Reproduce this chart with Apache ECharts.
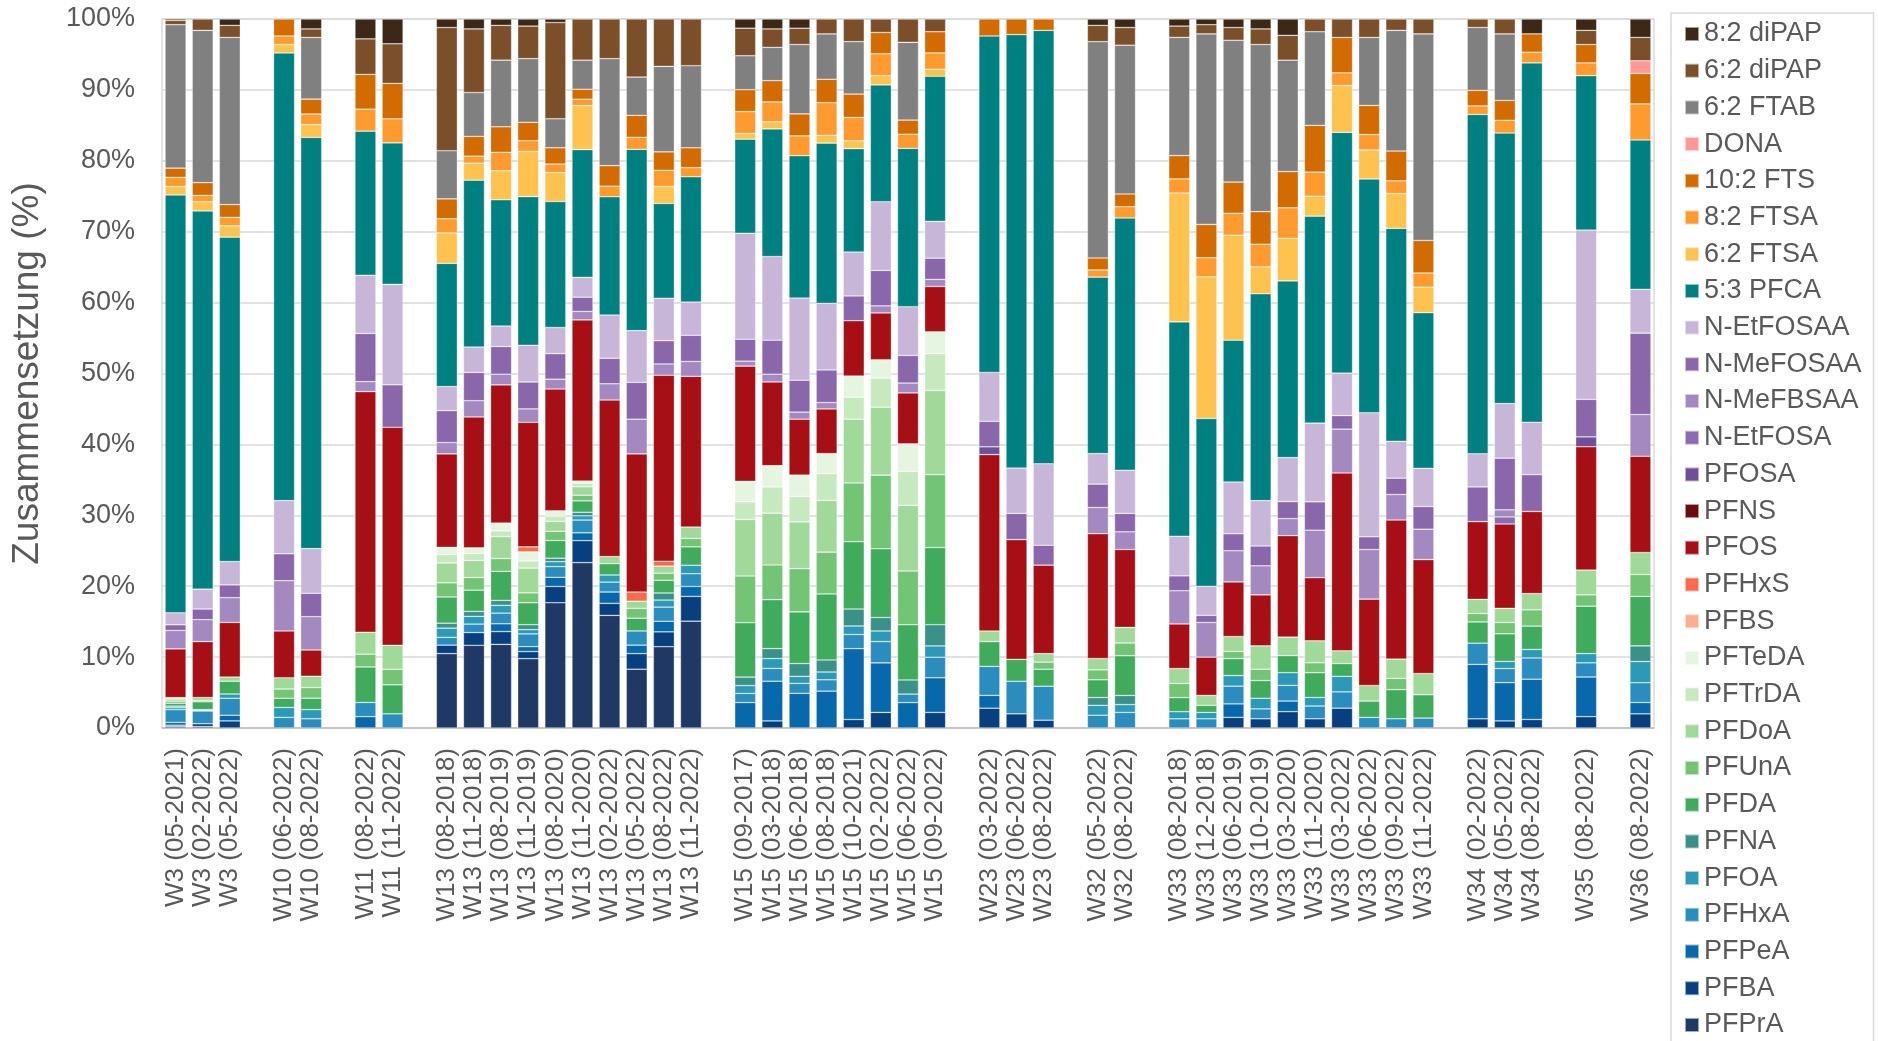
<!DOCTYPE html>
<html>
<head>
<meta charset="utf-8">
<script src="https://cdn.jsdelivr.net/npm/echarts@6/dist/echarts.min.js"></script>
<style>
  html, body { margin: 0; padding: 0; background: #ffffff; }
  #chart { width: 1878px; height: 1041px; }
</style>
</head>
<body>
<div id="chart"></div>
<script>
// Sampling sites and dates, one entry per bar
const sites = [
  'W3','W3','W3','W10','W10','W11','W11',
  'W13','W13','W13','W13','W13','W13','W13','W13','W13','W13',
  'W15','W15','W15','W15','W15','W15','W15','W15',
  'W23','W23','W23','W32','W32',
  'W33','W33','W33','W33','W33','W33','W33','W33','W33','W33',
  'W34','W34','W34','W35','W36'
];
const dates = [
  '05-2021','02-2022','05-2022','06-2022','08-2022','08-2022','11-2022',
  '08-2018','11-2018','08-2019','11-2019','08-2020','11-2020','02-2022','05-2022','08-2022','11-2022',
  '09-2017','03-2018','06-2018','08-2018','10-2021','02-2022','06-2022','09-2022',
  '03-2022','06-2022','08-2022','05-2022','08-2022',
  '08-2018','12-2018','06-2019','10-2019','03-2020','11-2020','03-2022','06-2022','09-2022','11-2022',
  '02-2022','05-2022','08-2022','08-2022','08-2022'
];

// Composition shares (%) per compound, in the bar order above
const PFPrA = [0.2,0.2,0,0,0,0,0, 10.5,11.7,11.8,9.8,17.7,23.3,15.9,8.3,11.5,15.1, 0,0,0,0,0,0,0,0, 0,0,0,0,0, 0,0,0,0,0,0,0,0,0,0, 0,0,0,0,0];
const PFBA = [0.2,0.4,1.0,0,0,0,0, 1.2,1.8,1.8,1.0,2.3,3.1,1.7,2.2,2.1,3.5, 0,1.0,0,0,1.2,2.2,0,2.2, 2.8,2.0,1.1,0,0, 0,0,1.5,1.3,2.3,1.3,2.8,0,0,0, 1.3,1.0,1.2,1.6,2.0];
const PFPeA = [0.4,0,0.8,0,0,1.6,0, 0,0,1.1,0.7,1.3,1.1,1.6,1.2,1.5,1.4, 3.6,5.6,4.9,5.2,10.0,7.0,3.6,4.9, 1.8,0,0,0,0, 0,0,1.9,0,1.5,0,0,0,0,0, 7.7,5.4,5.7,5.6,1.6];
const PFHxA = [1.8,1.8,2.4,1.5,1.3,2.0,2.0, 1.1,1.2,1.5,1.8,1.5,1.8,1.4,2.0,2.0,1.8, 1.3,1.8,1.4,1.6,2.0,3.0,1.2,2.9, 4.1,4.6,4.8,1.8,2.2, 1.3,1.3,2.5,1.4,2.2,1.8,2.3,1.5,1.3,1.4, 3.0,2.0,3.0,2.0,2.8];
const PFOA = [0.3,0.1,0.6,1.4,1.3,0,0, 1.3,1.1,1.1,0.6,0.7,0.6,1.0,0,1.0,1.2, 1.1,1.4,1.0,1.1,1.2,1.5,0,1.6, 0,0,0,1.4,1.1, 1.0,0.9,1.5,1.5,1.8,1.2,2.2,0,0,0, 0,1.0,1.2,1.3,3.0];
const PFNA = [0.2,0.1,0,0,0,0,0, 0.7,0.7,0.7,0.7,0.5,0.5,0,0,1.0,0, 1.2,1.4,1.8,1.7,2.4,1.9,2.0,3.0, 0,0,0,1.1,1.3, 0,0,0,0,0,0,0,0,0,0, 0,0,0,0,2.2];
const PFDA = [0.4,1.1,1.8,1.3,1.6,5.0,4.1, 3.7,3.0,4.1,3.1,2.5,1.6,1.6,1.8,1.8,2.6, 7.7,6.9,7.3,9.3,9.5,9.7,7.8,10.9, 3.5,3.1,2.4,2.5,5.6, 2.0,1.0,2.4,2.5,2.4,3.5,1.8,2.3,4.1,3.3, 3.0,3.9,3.3,6.7,7.0];
const PFUnA = [0.3,0.2,0,1.3,1.5,1.8,2.2, 2.0,1.8,1.8,1.4,1.3,0.8,0,1.4,1.0,1.2, 6.6,4.9,6.1,5.9,8.3,10.4,7.6,10.3, 0,0,1.0,1.4,1.8, 2.0,0,1.0,1.6,0,1.4,0,0,1.6,0, 1.2,1.6,2.3,1.6,3.1];
const PFDoA = [0.3,0.4,0.6,1.6,1.6,3.1,3.4, 2.8,2.4,3.1,3.5,1.4,1.2,1.0,1.0,1.0,1.6, 8.0,7.3,6.6,7.3,9.0,9.6,9.3,11.9, 1.5,0,1.2,1.6,2.2, 2.1,1.4,2.1,3.3,2.6,3.1,1.8,2.2,2.7,3.0, 2.0,2.0,2.3,3.5,3.1];
const PFTrDA = [0.2,0,0,0,0,0,0, 1.2,1.0,0.8,1.0,0.7,0.5,0,0,0,0, 2.5,3.7,3.6,3.8,3.1,4.1,4.8,5.2, 0,0,0,0,0, 0,0,0,0,0,0,0,0,0,0, 0,0,0,0,0];
const PFTeDA = [0,0,0,0,0,0,0, 1.0,0.8,1.1,1.3,0.8,0.3,0,0,0,0, 2.9,3.0,3.0,2.8,3.0,2.6,3.9,3.1, 0,0,0,0,0, 0,0,0,0,0,0,0,0,0,0, 0,0,0,0,0];
const PFBS = [0,0,0,0,0,0,0, 0,0,0,0,0,0,0,0,0,0, 0,0,0,0,0,0,0,0, 0,0,0,0,0, 0,0,0,0,0,0,0,0,0,0, 0,0,0,0,0];
const PFHxS = [0,0,0,0,0,0,0, 0,0,0,0.7,0,0,0,1.3,0.7,0, 0,0,0,0,0,0,0,0, 0,0,0,0,0, 0,0,0,0,0,0,0,0,0,0, 0,0,0,0,0];
const PFOS = [6.9,7.9,7.7,6.6,3.7,33.9,30.8, 13.2,18.5,19.5,17.6,17.2,22.7,22.1,19.5,26.3,21.3, 16.3,11.8,7.9,6.3,7.8,6.6,7.2,6.4, 24.9,16.9,12.5,17.6,11.0, 6.3,5.4,7.7,7.2,14.3,8.9,25.1,12.2,19.6,16.1, 11.0,11.9,11.6,17.4,13.6];
const PFNS = [0,0,0,0,0,0,0, 0,0,0,0,0,0,0,0,0,0, 0,0,0,0,0,0,0,0, 0,0,0,0,0, 0,0,0,0,0,0,0,0,0,0, 0,0,0,0,0];
const PFOSA = [0,0,0,0,0,0,0, 0,0,0,0,0,0,0,0,0,0, 0,0,0,0,0,0,0,0, 1.1,0,0,0,0, 0,0,0,0,0,0,0,0,0,0, 0,0,0,1.4,0];
const N_EtFOSA = [0,0,0,0,0,0,0, 0,0,0,0,0,0,0,0,0,0, 0,0,0,0,0,0,0,0, 0,0,0,0,0, 0,0,0,0,0,0,0,0,0,0, 0,1.0,0,0,0];
const N_MeFBSAA = [2.6,3.1,3.5,7.1,4.7,1.4,0, 1.6,2.3,1.5,1.9,1.4,1.2,2.3,4.9,1.6,2.1, 0.7,1.1,1.0,0.9,0,1.0,1.4,1.0, 0,0,0,3.7,2.5, 4.7,4.9,4.4,4.1,2.4,6.7,6.2,7.0,3.6,4.3, 0,1.0,0,0,5.9];
const N_MeFOSAA = [0.8,1.5,1.8,3.8,3.3,6.8,6.0, 4.5,4.0,3.9,3.8,3.6,2.0,3.6,5.2,3.3,3.7, 3.1,4.8,4.5,4.6,3.5,5.0,3.9,3.0, 3.6,3.7,2.8,3.3,2.6, 2.1,1.0,2.4,2.8,2.4,4.0,1.9,1.8,2.3,3.2, 4.9,7.3,5.2,5.3,11.5];
const N_EtFOSAA = [1.7,2.8,3.3,7.5,6.3,8.2,14.2, 3.4,3.6,2.9,5.2,3.7,2.8,6.1,7.3,6.0,4.7, 15.0,11.8,11.6,9.4,6.2,9.7,6.9,5.2, 6.9,6.4,11.5,4.3,6.1, 5.6,4.1,7.3,6.4,6.2,11.1,6.0,17.5,5.2,5.4, 4.7,7.7,7.4,23.9,6.2];
const PFCA_5_3 = [59.1,53.4,45.8,63.2,58.0,20.3,20.0, 17.4,23.6,17.8,21.0,17.8,18.0,16.7,25.6,13.4,17.7, 13.3,18.0,20.1,22.6,14.6,16.5,22.4,20.5, 47.5,61.2,61.2,24.9,35.6, 30.3,23.7,20.0,29.2,24.9,29.2,34.0,33.0,30.0,22.0, 48.0,38.2,50.8,21.8,21.1];
const FTSA_6_2 = [1.2,1.3,1.6,1.2,1.8,0,0, 4.3,2.4,4.1,6.4,4.1,6.2,0,0,2.4,0, 0.8,1.0,0,1.1,1.1,1.3,0,1.0, 0,0,0,0,0, 18.2,20.0,14.8,3.8,6.0,2.8,6.6,4.1,4.9,3.6, 0,0,0,0,0];
const FTSA_8_2 = [1.3,0.9,1.2,1.2,1.5,3.1,3.4, 2.0,1.0,2.6,1.5,1.2,0.9,1.5,1.7,2.3,1.3, 3.1,2.8,2.8,4.6,3.3,3.1,2.0,2.3, 0,0,0,1.0,1.6, 2.0,2.7,3.1,3.2,4.3,3.4,1.8,2.2,1.8,2.0, 1.2,1.8,1.5,1.8,5.1];
const FTS_10_2 = [1.3,1.8,1.8,2.4,2.1,4.9,5.0, 2.8,2.8,3.6,2.6,2.3,1.4,2.9,3.1,2.6,2.8, 3.1,3.0,3.1,3.3,3.3,3.0,2.0,3.0, 2.4,2.2,1.6,1.7,1.8, 3.3,4.7,4.4,4.6,5.1,6.6,5.0,4.1,4.2,4.6, 2.2,2.8,2.6,2.6,4.3];
const DONA = [0,0,0,0,0,0,0, 0,0,0,0,0,0,0,0,0,0, 0,0,0,0,0,0,0,0, 0,0,0,0,0, 0,0,0,0,0,0,0,0,0,0, 0,0,0,0,1.8];
const FTAB_6_2 = [20.3,21.5,23.6,0,8.7,0,0, 6.8,6.2,9.4,9.0,4.1,4.1,15.1,5.4,12.1,11.6, 4.8,4.7,9.8,6.4,7.4,0,11.0,0, 0,0,0,30.5,21.0, 16.7,26.9,20.0,23.6,15.7,13.2,0,9.6,17.0,29.2, 8.9,9.4,0,0,0];
const diPAP_6_2 = [0.6,1.6,1.7,0,1.2,5.0,5.6, 17.4,9.0,4.9,4.6,13.6,5.8,5.6,8.2,6.7,6.6, 3.9,2.6,2.3,2.1,3.2,1.9,3.3,1.8, 0,0,0,2.3,2.5, 1.6,1.3,1.8,2.2,3.5,1.8,2.6,2.6,1.6,2.1, 1.2,2.1,0,2.0,3.3];
const diPAP_8_2 = [0.2,0,0.9,0,1.4,2.8,3.5, 1.2,1.4,0.9,1.0,0.5,0,0,0,0,0, 1.3,1.4,1.3,0,0,0,0,0, 0,0,0,0.9,1.2, 1.0,0.8,1.2,1.4,2.3,0,0,0,0,0, 0,0,2.1,1.6,2.6];

// Stack order, bottom to top
const compoundNames = [
  'PFPrA','PFBA','PFPeA','PFHxA','PFOA','PFNA','PFDA','PFUnA','PFDoA','PFTrDA','PFTeDA',
  'PFBS','PFHxS','PFOS','PFNS','PFOSA','N-EtFOSA','N-MeFBSAA','N-MeFOSAA','N-EtFOSAA',
  '5:3 PFCA','6:2 FTSA','8:2 FTSA','10:2 FTS','DONA','6:2 FTAB','6:2 diPAP','8:2 diPAP'
];
const compoundValues = [
  PFPrA, PFBA, PFPeA, PFHxA, PFOA, PFNA, PFDA, PFUnA, PFDoA, PFTrDA, PFTeDA,
  PFBS, PFHxS, PFOS, PFNS, PFOSA, N_EtFOSA, N_MeFBSAA, N_MeFOSAA, N_EtFOSAA,
  PFCA_5_3, FTSA_6_2, FTSA_8_2, FTS_10_2, DONA, FTAB_6_2, diPAP_6_2, diPAP_8_2
];
const compoundColors = [
  '#1f3864','#08407f','#0868ac','#2b8cbe','#2c9ab7','#3a9188','#41ab5d','#74c476','#a1d99b','#c7e9c0','#e5f5e0',
  '#fcae91','#fb6a4a','#a50f15','#6b0a10','#704f96','#8c6bb1','#a389bf','#8a66aa','#c8b6d8',
  '#008080','#fec24f','#fe9a2e','#d26b00','#ff9896','#808080','#7b4f29','#3b2816'
];

// Category slots: one per sample, with an empty slot between sites
const slotLabels = [];
const slotSample = [];
for (let i = 0; i < sites.length; i++) {
  if (i > 0 && sites[i] !== sites[i - 1]) {
    slotLabels.push('');
    slotSample.push(-1);
  }
  slotLabels.push(sites[i] + ' (' + dates[i] + ')');
  slotSample.push(i);
}

// 100 % stacking: each bar is scaled to its own total
const totals = sites.map((_, i) => compoundValues.reduce((s, arr) => s + arr[i], 0));

const FONT = '"Liberation Sans", Arial, sans-serif';
const TEXT = '#595959';

const series = compoundNames.map((name, j) => ({
  name: name,
  type: 'bar',
  stack: 'share',
  barWidth: 21,
  itemStyle: {
    color: compoundColors[j],
    borderColor: 'rgba(255,255,255,0.55)',
    borderWidth: 0.6
  },
  emphasis: { disabled: true },
  data: slotSample.map(i => {
    if (i < 0) return '-';
    const v = compoundValues[j][i];
    return v > 0 ? v / totals[i] * 100 : '-';
  })
}));

const chart = echarts.init(document.getElementById('chart'), null, { renderer: 'canvas' });
chart.setOption({
  animation: false,
  backgroundColor: '#ffffff',
  textStyle: { fontFamily: FONT },
  grid: {
    left: 162, right: 224, top: 19, bottom: 313,
    show: true, borderColor: '#c8c8c8', borderWidth: 1
  },
  legend: {
    orient: 'vertical',
    left: 1671, top: 13,
    width: 220, height: 1060,
    padding: [6, 12, 6, 13],
    itemWidth: 14, itemHeight: 14, itemGap: 6.7,
    icon: 'rect',
    borderColor: '#d9d9d9', borderWidth: 1.5,
    selectedMode: false,
    textStyle: { fontFamily: FONT, fontSize: 27, color: TEXT, lineHeight: 30 },
    data: compoundNames.slice().reverse()
  },
  xAxis: {
    type: 'category',
    data: slotLabels,
    axisTick: { show: false },
    axisLine: { lineStyle: { color: '#bfbfbf', width: 1.5 } },
    axisLabel: { rotate: 90, interval: 0, fontFamily: FONT, fontSize: 26, color: TEXT, margin: 20 }
  },
  yAxis: {
    type: 'value',
    min: 0, max: 100, interval: 10,
    name: 'Zusammensetzung (%)',
    nameLocation: 'middle',
    nameGap: 116,
    nameTextStyle: { fontFamily: FONT, fontSize: 37, color: TEXT },
    axisLine: { show: false },
    axisTick: { show: false },
    axisLabel: { formatter: '{value}%', fontFamily: FONT, fontSize: 27, color: TEXT, margin: 27 },
    splitLine: { lineStyle: { color: '#d9d9d9', width: 1.5 } }
  },
  series: series
});
</script>
</body>
</html>
